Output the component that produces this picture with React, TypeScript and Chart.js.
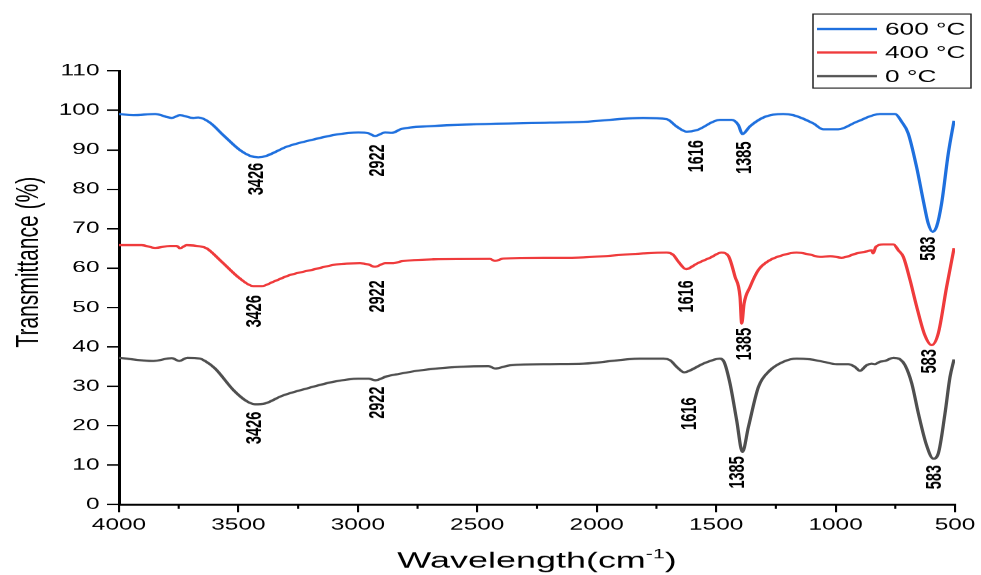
import React, { useEffect, useRef } from 'react';
import { Chart, registerables } from 'chart.js';

Chart.register(...registerables);

// ---------------- data ----------------
const seriesNames = ['600 °C', '400 °C', '0 °C'];
const seriesColors = ['#1f70de', '#ef3b3c', '#4f4f4f'];

const wn600 = [4000, 3940, 3849, 3779, 3745, 3689, 3668, 3619, 3563, 3493, 3452, 3417, 3382, 3298, 3187, 3089, 2998, 2956, 2928, 2886, 2858, 2817, 2698, 2502, 2196, 2056, 1805, 1707, 1665, 1623, 1581, 1484, 1435, 1407, 1390, 1358, 1295, 1219, 1177, 1093, 1051, 989, 912, 814, 751, 723, 696, 661, 633, 612, 594, 577, 556, 528, 504];
const t600 = [99.1, 98.8, 99.1, 98.1, 98.8, 98.1, 98.2, 96.9, 93.7, 89.9, 88.5, 88.1, 88.5, 90.8, 92.6, 93.9, 94.4, 94.2, 93.5, 94.4, 94.3, 95.3, 96.0, 96.5, 96.9, 97.1, 98.1, 97.8, 95.9, 94.6, 95.0, 97.6, 97.6, 96.3, 94.0, 96.0, 98.4, 99.1, 98.8, 96.7, 95.2, 95.2, 97.1, 99.1, 99.1, 97.1, 94.2, 85.7, 77.2, 71.3, 69.2, 70.5, 76.4, 89.1, 97.4];

const wn400 = [4000, 3905, 3849, 3786, 3758, 3745, 3717, 3661, 3633, 3577, 3493, 3438, 3403, 3354, 3284, 3187, 3089, 2991, 2956, 2928, 2886, 2851, 2817, 2684, 2447, 2426, 2391, 2196, 2056, 1805, 1707, 1679, 1658, 1626, 1581, 1525, 1477, 1449, 1421, 1400, 1393, 1383, 1358, 1323, 1275, 1219, 1163, 1107, 1065, 1023, 975, 912, 870, 849, 843, 831, 800, 758, 737, 716, 688, 660, 626, 598, 570, 535, 504];
const t400 = [65.8, 65.8, 65.1, 65.6, 65.6, 65.0, 65.8, 65.5, 65.0, 62.0, 57.3, 55.4, 55.4, 56.5, 58.2, 59.6, 60.9, 61.2, 60.9, 60.3, 61.2, 61.2, 61.7, 62.2, 62.3, 61.8, 62.4, 62.6, 62.7, 63.7, 63.9, 63.3, 61.6, 59.7, 61.1, 62.6, 63.9, 63.1, 57.8, 52.7, 45.9, 51.0, 55.2, 59.5, 62.0, 63.3, 63.9, 63.4, 62.8, 63.0, 62.6, 63.7, 64.2, 64.5, 63.7, 65.4, 66.0, 66.0, 64.5, 62.8, 56.9, 50.1, 42.9, 40.4, 43.4, 55.2, 65.0];

const wn0 = [4000, 3856, 3779, 3748, 3714, 3661, 3640, 3598, 3521, 3466, 3431, 3389, 3319, 3214, 3103, 2998, 2956, 2928, 2879, 2838, 2740, 2572, 2454, 2426, 2363, 2196, 2056, 1818, 1721, 1693, 1665, 1633, 1609, 1554, 1484, 1467, 1442, 1414, 1390, 1365, 1323, 1275, 1219, 1163, 1107, 1051, 995, 947, 919, 898, 870, 849, 835, 814, 793, 758, 730, 709, 681, 653, 619, 591, 570, 542, 521, 504];
const t0 = [37.2, 36.4, 37.1, 36.4, 37.2, 37.0, 36.4, 34.5, 29.0, 26.2, 25.4, 25.6, 27.5, 29.4, 31.1, 31.9, 31.9, 31.5, 32.5, 33.0, 34.0, 34.9, 35.1, 34.5, 35.3, 35.6, 35.7, 37.0, 37.0, 36.6, 34.9, 33.5, 34.0, 35.7, 37.0, 36.2, 30.7, 21.3, 13.3, 19.6, 29.8, 34.0, 36.2, 37.0, 36.8, 36.2, 35.6, 35.6, 34.9, 33.9, 35.3, 35.7, 35.6, 36.2, 36.4, 37.2, 36.8, 35.3, 30.7, 23.0, 15.0, 11.6, 12.9, 23.0, 32.3, 36.8];

// peak annotations: text, x position (cm-1), y position (%)
const peakText600 = ['3426', '2922', '1616', '1385', '583'];
const peakX600 = [3422, 2916, 1580, 1379, 609];
const peakY600 = [82.6, 87.3, 88.4, 88.0, 64.9];
const peakText400 = ['3426', '2922', '1616', '1385', '583'];
const peakX400 = [3431, 2916, 1622, 1379, 605];
const peakY400 = [49.0, 52.8, 52.8, 40.7, 36.3];
const peakText0 = ['3426', '2922', '1616', '1385', '583'];
const peakX0 = [3431, 2916, 1609, 1409, 584];
const peakY0 = [19.4, 25.8, 23.0, 8.1, 6.9];

const xMin = 500;
const xMax = 4000;
const xStep = 500;
const xMinorTicks = [3750, 3250, 2750, 2250, 1750, 1250, 750];
const yMin = 0;
const yMax = 110;
const yStep = 10;

const xTitle = 'Wavelength(cm';
const xTitleSup = '-1';
const xTitleEnd = ')';
const yTitle = 'Transmittance (%)';

// ---------------- layout ----------------
const FONT = '"Liberation Sans", Arial, Helvetica, sans-serif';
const W = 981;
const H = 575;
const SX = 1.5; // horizontal stretch of the figure
const LW = Math.round(W / SX); // logical width 654

const peakSets = [
  { text: peakText600, x: peakX600, y: peakY600 },
  { text: peakText400, x: peakX400, y: peakY400 },
  { text: peakText0, x: peakX0, y: peakY0 },
];

const overlayPlugin = {
  id: 'overlay',
  afterDraw(chart: any) {
    const ctx = chart.ctx as CanvasRenderingContext2D;
    const xs = chart.scales.x;
    const ys = chart.scales.y;
    const area = chart.chartArea;
    ctx.save();

    // minor ticks on x axis
    ctx.strokeStyle = '#000';
    ctx.lineWidth = 1.4;
    for (const v of xMinorTicks) {
      const px = xs.getPixelForValue(v);
      ctx.beginPath();
      ctx.moveTo(px, area.bottom);
      ctx.lineTo(px, area.bottom + 4.5);
      ctx.stroke();
    }

    // peak labels
    ctx.fillStyle = '#000';
    ctx.font = `bold 14.5px ${FONT}`;
    ctx.textAlign = 'center';
    ctx.textBaseline = 'middle';
    for (const s of peakSets) {
      for (let i = 0; i < s.text.length; i++) {
        const px = xs.getPixelForValue(s.x[i]);
        const py = ys.getPixelForValue(s.y[i]);
        ctx.save();
        ctx.translate(px, py);
        ctx.rotate(-Math.PI / 2);
        ctx.fillText(s.text[i], 0, 0);
        ctx.restore();
      }
    }

    // y title
    ctx.save();
    ctx.font = `21px ${FONT}`;
    ctx.translate(19.5, 262);
    ctx.rotate(-Math.PI / 2);
    ctx.textAlign = 'center';
    ctx.textBaseline = 'middle';
    ctx.fillText(yTitle, 0, 0);
    ctx.restore();

    // x title with superscript
    ctx.save();
    const cx = (area.left + area.right) / 2;
    ctx.translate(cx, 0);
    ctx.scale(1.09, 1);
    ctx.textBaseline = 'alphabetic';
    ctx.textAlign = 'left';
    const mainFont = `22px ${FONT}`;
    const supFont = `13px ${FONT}`;
    ctx.font = mainFont;
    const w1 = ctx.measureText(xTitle).width;
    const w3 = ctx.measureText(xTitleEnd).width;
    ctx.font = supFont;
    const w2 = ctx.measureText(xTitleSup).width;
    const total = w1 + w2 + w3;
    let x0 = -total / 2;
    const base = 567;
    ctx.font = mainFont;
    ctx.fillText(xTitle, x0, base);
    x0 += w1;
    ctx.font = supFont;
    ctx.fillText(xTitleSup, x0, base - 9);
    x0 += w2;
    ctx.font = mainFont;
    ctx.fillText(xTitleEnd, x0, base);
    ctx.restore();

    // legend box
    const lx0 = 813 / SX;
    const lx1 = 971 / SX;
    const ly0 = 14;
    const ly1 = 88;
    ctx.strokeStyle = '#222';
    ctx.lineWidth = 1;
    ctx.strokeRect(lx0, ly0, lx1 - lx0, ly1 - ly0);
    const rows = [29, 52.5, 76];
    ctx.font = `17.5px ${FONT}`;
    ctx.textAlign = 'left';
    ctx.textBaseline = 'middle';
    for (let i = 0; i < seriesNames.length; i++) {
      ctx.strokeStyle = seriesColors[i];
      ctx.lineWidth = 2.4;
      ctx.beginPath();
      ctx.moveTo(817 / SX, rows[i]);
      ctx.lineTo(877 / SX, rows[i]);
      ctx.stroke();
      ctx.fillStyle = '#000';
      ctx.fillText(seriesNames[i], 885 / SX, rows[i] + 1);
    }

    ctx.restore();
  },
};

export default function App() {
  const ref = useRef<HTMLCanvasElement | null>(null);

  useEffect(() => {
    const canvas = ref.current;
    if (!canvas) return;
    const toPts = (xs: number[], ys: number[]) => xs.map((x, i) => ({ x, y: ys[i] }));
    const datasets = [
      { label: seriesNames[0], data: toPts(wn600, t600), borderColor: seriesColors[0] },
      { label: seriesNames[1], data: toPts(wn400, t400), borderColor: seriesColors[1] },
      { label: seriesNames[2], data: toPts(wn0, t0), borderColor: seriesColors[2] },
    ].map((d) => ({
      ...d,
      borderWidth: 2.2,
      pointRadius: 0,
      fill: false,
      cubicInterpolationMode: 'monotone' as const,
    }));

    const chart = new Chart(canvas, {
      type: 'line',
      data: { datasets },
      options: {
        animation: false,
        responsive: false,
        devicePixelRatio: SX,
        parsing: false as any,
        layout: { padding: { left: 0, right: LW - 955 / SX, top: 71, bottom: 0 } },
        plugins: { legend: { display: false }, tooltip: { enabled: false } },
        scales: {
          x: {
            type: 'linear',
            reverse: true,
            min: xMin,
            max: xMax,
            afterFit: (s: any) => {
              s.height = H - 504;
            },
            ticks: {
              stepSize: xStep,
              autoSkip: false,
              maxRotation: 0,
              color: '#000',
              padding: 3,
              font: { family: FONT, size: 16.3 },
              callback: (v: any) => String(v),
            },
            grid: { drawOnChartArea: false, drawTicks: true, tickLength: 8, color: '#000', lineWidth: 1.4 },
            border: { display: true, color: '#000', width: 2 },
          },
          y: {
            type: 'linear',
            min: yMin,
            max: yMax,
            afterFit: (s: any) => {
              s.width = 119 / SX;
            },
            ticks: {
              stepSize: yStep,
              autoSkip: false,
              color: '#000',
              padding: 5,
              font: { family: FONT, size: 16.3 },
              callback: (v: any) => String(v),
            },
            grid: { drawOnChartArea: false, drawTicks: true, tickLength: 8, color: '#000', lineWidth: 1.4 },
            border: { display: true, color: '#000', width: 2 },
          },
        },
      },
      plugins: [overlayPlugin],
    });
    return () => chart.destroy();
  }, []);

  return (
    <div style={{ position: 'fixed', left: 0, top: 0, width: W, height: H, background: '#fff', overflow: 'hidden' }}>
      <canvas
        ref={ref}
        width={LW}
        height={H}
        style={{ width: `${W}px`, height: `${H}px`, display: 'block' }}
      />
    </div>
  );
}
